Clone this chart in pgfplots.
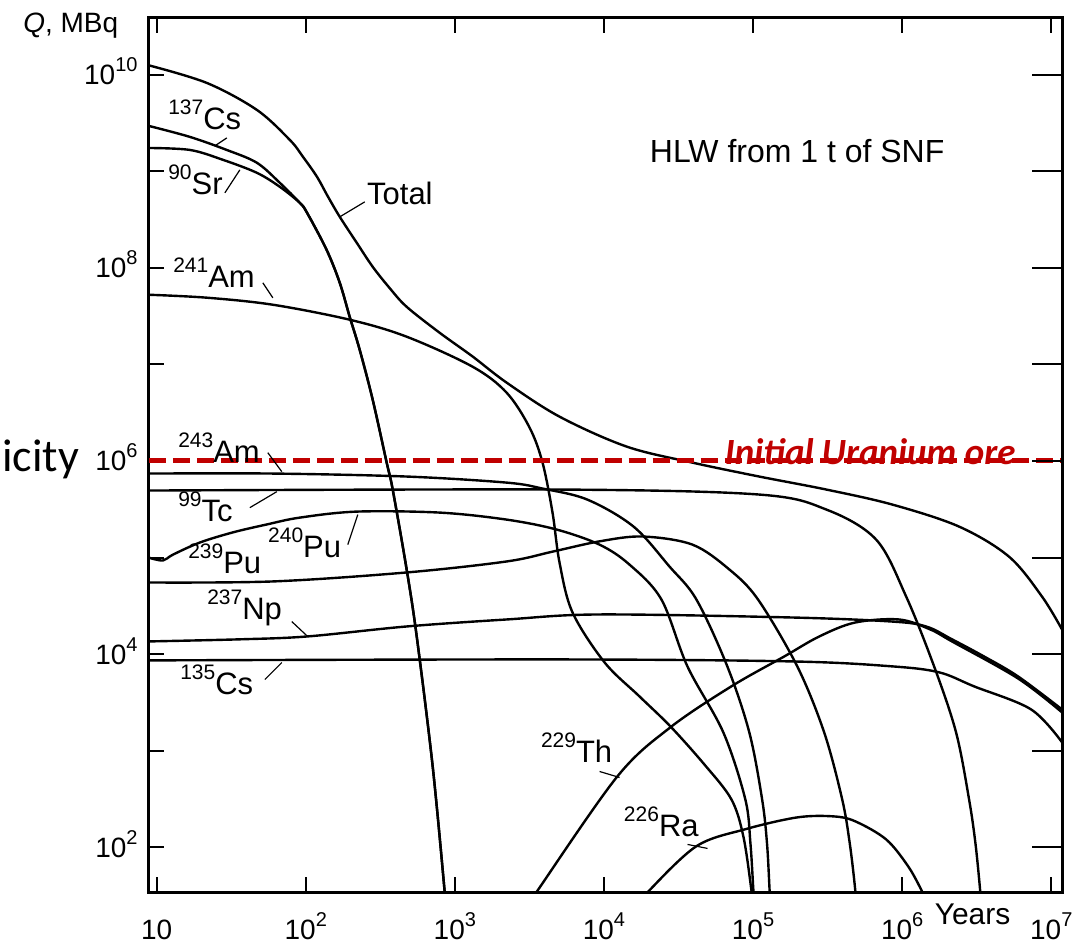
\documentclass[border=0pt]{standalone}
\usepackage{pgfplots}
\pgfplotsset{compat=1.18}
\usepackage{fontspec}
\setmainfont{Liberation Sans}
\newfontfamily\carlito{Carlito}
\definecolor{ore}{HTML}{C00000}
\newcommand{\tl}[1]{10\raisebox{6.5pt}{\fontsize{10}{10}\selectfont #1}}
\newcommand{\iso}[2]{{\fontsize{15.5}{15.5}\selectfont\raisebox{7.5pt}{\fontsize{10.5}{10.5}\selectfont #1}#2}}
\begin{document}
\begin{tikzpicture}
\pgfplotsset{curve/.style={black, line width=1.2pt, smooth, tension=0.55}}
\begin{axis}[
  scale only axis, width=457pt, height=437.5pt,
  xmode=log, ymode=log,
  xmin=8.87, xmax=1.186e7, ymin=33.9, ymax=3.89e10,
  axis line style={line width=1.5pt},
  tick align=inside, major tick length=7.5pt,
  every tick/.style={black, line width=1pt},
  minor tick length=0pt, minor xtick={}, minor ytick={},
  xtick={10,100,1000,1e4,1e5,1e6,1e7},
  xticklabels={10,\tl{2},\tl{3},\tl{4},\tl{5},\tl{6},\tl{7}},
  ytick={1e2,1e3,1e4,1e5,1e6,1e7,1e8,1e9,1e10},
  yticklabels={\tl{2},{},\tl{4},{},\tl{6},{},\tl{8},{},\tl{10}},
  ytick pos=left,
  xticklabel style={font=\fontsize{14}{14}\selectfont, anchor=base, inner sep=0pt, yshift=-23.5pt},
  yticklabel style={font=\fontsize{14}{14}\selectfont, anchor=base east, inner sep=0pt, xshift=-5.5pt, yshift=-5pt},
]
% Total
\addplot[curve] coordinates {(8.8,1.26e10) (21.7,8.26e9) (47.0,4.34e9) (78.2,2.12e9) (95.7,1.42e9) (119,8.79e8) (140,5.58e8) (169,3.39e8) (220,1.82e8) (281,1.03e8) (365,6.2e7) (475,3.96e7) (791,2.13e7) (1315,1.21e7) (2223,6.49e6) (5035,2.88e6) (1.42e4,1.41e6) (3.92e4,9.62e5) (1.10e5,6.90e5) (3.10e5,5.06e5) (8.57e5,3.54e5) (2.41e6,2.09e5) (5.21e6,1.02e5) (8.67e6,3.94e4) (1.18e7,1.80e4)};
% 137Cs
\addplot[curve] coordinates {(8.8,2.97e9) (16.7,2.28e9) (29.5,1.67e9) (47.0,1.23e9) (67.0,7.62e8) (91.2,4.73e8) (102,3.73e8) (138,1.54e8) (169,7.03e7) (197,3.13e7) (230,1.42e7) (281,4.33e6) (349,9.62e5) (383,5.06e5) (475,7.52e4) (555,1.52e4) (710,686) (855,34.0) (881,17.8)};
% 90Sr
\addplot[curve] coordinates {(8.8,1.75e9) (16.7,1.67e9) (27.8,1.32e9) (47.0,9.68e8) (67.0,6.93e8) (91.2,4.73e8) (102,3.73e8) (138,1.54e8) (169,7.03e7) (197,3.13e7) (230,1.42e7) (281,4.33e6) (349,9.62e5) (383,5.06e5) (475,7.52e4) (555,1.52e4) (710,686) (855,34.0) (881,17.8)};
% 241Am
\addplot[curve] coordinates {(8.8,5.28e7) (21.7,4.92e7) (60.1,4.16e7) (197,2.91e7) (475,1.94e7) (1315,9.48e6) (2223,5.11e6) (3170,2.22e6) (3873,9.62e5) (4519,2.92e5) (5035,8.87e4) (6152,2.70e4) (1.01e4,8.18e3) (1.73e4,3.64e3) (2.79e4,1.78e3) (4.71e4,719) (7.15e4,313) (8.6e4,130) (9.73e4,36.6) (1.02e5,17.9)};
% 243Am
\addplot[curve] coordinates {(8.8,7.41e5) (60.1,7.41e5) (475,6.90e5) (2223,5.97e5) (3873,5.18e5) (7745,3.98e5) (1.58e4,2.09e5) (2.75e4,8.07e4) (4.17e4,3.67e4) (6.72e4,7.45e3) (9.44e4,1.54e3) (1.15e5,313) (1.24e5,110) (1.29e5,36.6) (1.32e5,17.9)};
% 99Tc
\addplot[curve] coordinates {(8.8,4.94e5) (5035,5.06e5) (1.10e5,4.49e5) (3.10e5,3.14e5) (6.70e5,1.53e5) (1.064e6,3.94e4) (1.638e6,7.45e3) (2.30e6,1.54e3) (2.81e6,313) (3.1e6,110) (3.33e6,36.6) (3.44e6,17.9)};
% 240Pu
\addplot[curve] coordinates {(8.8,1.0e5) (11.0,9.31e4) (12.85,1.07e5) (19.5,1.43e5) (32.4,1.82e5) (54.8,2.20e5) (91.2,2.59e5) (220,2.99e5) (791,2.92e5) (2223,2.47e5) (4805,1.95e5) (9330,1.36e5) (1.48e4,8.47e4) (2.43e4,3.67e4) (3.63e4,7.45e3) (6.32e4,1.54e3) (8.87e4,313) (9.6e4,110) (1.004e5,36.6) (1.035e5,17.9)};
% 239Pu
\addplot[curve] coordinates {(8.8,5.51e4) (60.1,5.65e4) (475,7.00e4) (2223,9.10e4) (4519,1.15e5) (9330,1.47e5) (1.81e4,1.65e5) (3.92e4,1.36e5) (6.93e4,7.52e4) (1.08e5,3.67e4) (1.98e5,7.45e3) (3.00e5,1.54e3) (3.96e5,313) (4.45e5,110) (4.84e5,36.6) (5.00e5,17.9)};
% 237Np
\addplot[curve] coordinates {(8.8,1.35e4) (36.1,1.42e4) (102,1.52e4) (475,1.93e4) (2223,2.28e4) (9330,2.57e4) (1.83e5,2.39e4) (8.57e5,2.17e4) (1.448e6,1.93e4) (2.16e6,1.42e4) (3.54e6,9.44e3) (5.99e6,5.86e3) (1.18e7,2.67e3)};
% 135Cs
\addplot[curve] coordinates {(8.8,8.59e3) (5035,8.79e3) (1.83e5,8.38e3) (8.57e5,7.45e3) (1.77e6,6.46e3) (3.04e6,4.62e3) (7.32e6,2.67e3) (1.18e7,1.22e3)};
% 229Th
\addplot[curve] coordinates {(3319,28.8) (3639,36.6) (1.232e4,541) (2.79e4,1.74e3) (7.15e4,4.62e3) (1.62e5,9.44e3) (2.78e5,1.52e4) (4.84e5,2.12e4) (9.55e5,2.28e4) (1.54e6,1.80e4) (2.16e6,1.35e4) (5.99e6,5.58e3) (1.18e7,2.49e3)};
% 226Ra
\addplot[curve] coordinates {(1.87e4,28.8) (1.99e4,34.8) (4.17e4,102) (8.87e4,153) (1.98e5,203) (3.45e5,208) (4.84e5,185) (7.81e5,120) (1.097e6,63.2) (1.36e6,34.8) (1.43e6,28.8)};
% initial uranium ore level
\addplot[ore, line width=2.5pt, dash pattern=on 8.5pt off 3.5pt] coordinates {(8.87,1e6) (1.186e7,1e6)};
\end{axis}
\begin{axis}[
  scale only axis, width=457pt, height=437.5pt,
  xmode=log, ymode=log,
  xmin=8.87, xmax=1.186e7, ymin=33.9, ymax=3.89e10,
  axis x line=none, axis y line*=right,
  axis line style={line width=1.5pt},
  ytick={1e2,1e3,1e4,1e5,1e6,1e7,1e8,1e9,1e10}, yticklabels={},
  tick align=inside, major tick length=15pt,
  every tick/.style={black, line width=1pt},
  minor tick length=0pt, minor ytick={},
]
\end{axis}
\begin{scope}[x=0.5pt, y=-0.5pt, shift={(-74.5pt,446.5pt)}]
\useasboundingbox (0,0) rectangle (1076,944);
\node[anchor=base west, inner sep=0pt, font=\carlito\fontsize{23}{23}\selectfont] at (2,472) {icity};
\node[anchor=base west, inner sep=0pt, font=\fontsize{14}{14}\selectfont] at (23,33) {\textit{Q}, MBq};
\node[anchor=base west, inner sep=0pt, font=\fontsize{15}{15}\selectfont] at (935,925) {Years};
\node[anchor=base west, inner sep=0pt, font=\fontsize{16}{16}\selectfont] at (650,163) {HLW from 1 t of SNF};
\node[anchor=base west, inner sep=0pt, text=ore, font=\carlito\bfseries\itshape\fontsize{18.5}{18.5}\selectfont] at (725,465) {Initial Uranium ore};
\begin{scope}[every node/.style={anchor=base west, inner sep=0pt}]
\node at (168,130) {\iso{137}{Cs}};
\node at (168,195) {\iso{90}{Sr}};
\node[font=\fontsize{15.5}{15.5}\selectfont] at (367,205) {Total};
\node at (173,288) {\iso{241}{Am}};
\node at (178,463) {\iso{243}{Am}};
\node at (178,522) {\iso{99}{Tc}};
\node at (188,574) {\iso{239}{Pu}};
\node at (268,558) {\iso{240}{Pu}};
\node at (207,620) {\iso{237}{Np}};
\node at (180,695) {\iso{135}{Cs}};
\node at (541,763) {\iso{229}{Th}};
\node at (624,837) {\iso{226}{Ra}};
\end{scope}
\begin{scope}[line width=0.6pt]
\draw (227,138) -- (215,146);
\draw (225,193) -- (240,170);
\draw (365,202) -- (340,217);
\draw (263,283) -- (273,298);
\draw (268,453) -- (282,472);
\draw (250,508) -- (277,492);
\draw (348,545) -- (358,515);
\draw (292,622) -- (308,637);
\draw (265,680) -- (282,663);
\draw (600,772) -- (620,778);
\draw (688,845) -- (708,849);
\end{scope}
\end{scope}
\end{tikzpicture}
\end{document}
